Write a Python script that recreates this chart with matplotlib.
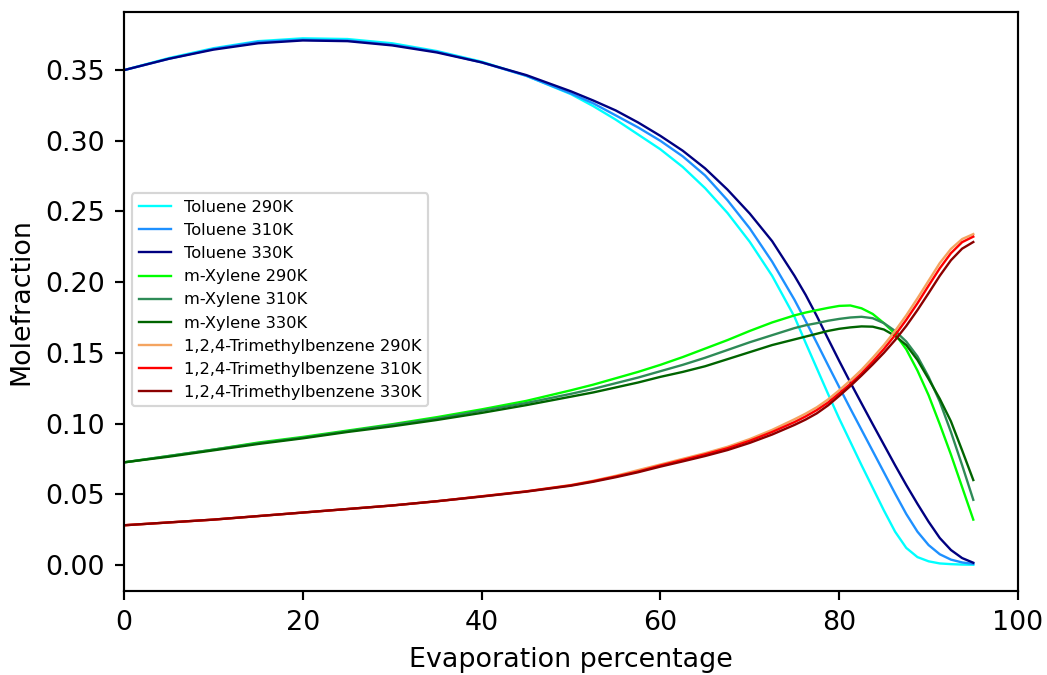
import matplotlib
matplotlib.use("Agg")
import matplotlib.pyplot as plt

# x positions (evaporation percentage)
x = [0, 5, 10, 15, 20, 25, 30, 35, 40, 45, 50, 52.5, 55, 57.5, 60, 62.5, 65,
     67.5, 70, 72.5, 75, 76.25, 77.5, 78.75, 80, 81.25, 82.5, 83.75, 85, 86.25,
     87.5, 88.75, 90, 91.25, 92.5, 93.75, 95]

toluene_290 = [0.350, 0.3585, 0.3655, 0.3705, 0.3725, 0.372, 0.369, 0.3635, 0.356,
               0.346, 0.333, 0.3245, 0.315, 0.3045, 0.294, 0.2815, 0.2665,
               0.249, 0.2285, 0.2045, 0.1755, 0.157, 0.139, 0.121, 0.1035,
               0.087, 0.0705, 0.0545, 0.0385, 0.0235, 0.012, 0.0055, 0.0025,
               0.001, 0.0005, 0.0002, 0.0001]
toluene_310 = [0.350, 0.358, 0.365, 0.370, 0.3715, 0.371, 0.368, 0.363, 0.3555,
               0.346, 0.3335, 0.3265, 0.318, 0.3095, 0.300, 0.289, 0.2755,
               0.258, 0.238, 0.2145, 0.1875, 0.1725, 0.157, 0.1413, 0.1258,
               0.1105, 0.0955, 0.0805, 0.0655, 0.0505, 0.036, 0.0235, 0.014,
               0.0075, 0.0037, 0.0017, 0.0007]
toluene_330 = [0.350, 0.358, 0.3645, 0.369, 0.371, 0.3705, 0.3675, 0.3625, 0.3555,
               0.3465, 0.335, 0.3285, 0.3215, 0.313, 0.3035, 0.293, 0.2805,
               0.2655, 0.2485, 0.229, 0.2045, 0.191, 0.176, 0.160, 0.1443,
               0.129, 0.1142, 0.0995, 0.085, 0.0705, 0.0565, 0.0432, 0.0305,
               0.019, 0.0105, 0.0048, 0.0015]

xylene_290 = [0.0725, 0.077, 0.0815, 0.0865, 0.0905, 0.095, 0.0995, 0.1045, 0.110,
              0.116, 0.1235, 0.1275, 0.132, 0.1365, 0.1415, 0.147, 0.153,
              0.159, 0.1655, 0.1715, 0.1765, 0.1785, 0.1802, 0.1818, 0.1832,
              0.1835, 0.1815, 0.1775, 0.171, 0.1635, 0.1525, 0.1375, 0.120,
              0.0995, 0.078, 0.055, 0.032]
xylene_310 = [0.0725, 0.077, 0.0815, 0.086, 0.090, 0.0945, 0.099, 0.1035, 0.109,
              0.1145, 0.121, 0.1245, 0.1285, 0.1325, 0.137, 0.1415, 0.1465,
              0.152, 0.1575, 0.1625, 0.1675, 0.1695, 0.171, 0.1727, 0.174,
              0.175, 0.1755, 0.1745, 0.171, 0.1655, 0.158, 0.1475, 0.133,
              0.1155, 0.094, 0.0705, 0.046]
xylene_330 = [0.0725, 0.0765, 0.081, 0.0855, 0.0895, 0.094, 0.098, 0.1025, 0.1075,
              0.113, 0.119, 0.122, 0.1255, 0.129, 0.133, 0.1365, 0.1405,
              0.1455, 0.1505, 0.1555, 0.1595, 0.1615, 0.1635, 0.1655, 0.167,
              0.168, 0.1687, 0.1685, 0.1665, 0.162, 0.1555, 0.145, 0.1315,
              0.1175, 0.1015, 0.081, 0.060]

tmb_290 = [0.028, 0.030, 0.032, 0.0345, 0.037, 0.0395, 0.042, 0.045, 0.0485,
           0.052, 0.0565, 0.0595, 0.063, 0.067, 0.071, 0.075, 0.079,
           0.0835, 0.089, 0.0955, 0.103, 0.107, 0.1115, 0.117, 0.1235,
           0.1305, 0.138, 0.1465, 0.1555, 0.1655, 0.1765, 0.1885, 0.201,
           0.2135, 0.2235, 0.2305, 0.234]
tmb_310 = [0.028, 0.030, 0.032, 0.0345, 0.037, 0.0395, 0.042, 0.045, 0.0485,
           0.052, 0.0563, 0.0592, 0.0625, 0.066, 0.0703, 0.0742, 0.0782,
           0.0825, 0.0878, 0.094, 0.101, 0.105, 0.1095, 0.1148, 0.1213,
           0.128, 0.1355, 0.1438, 0.1527, 0.1625, 0.1733, 0.185, 0.1975,
           0.2098, 0.2205, 0.2283, 0.2322]
tmb_330 = [0.028, 0.030, 0.032, 0.0345, 0.037, 0.0395, 0.042, 0.045, 0.0483,
           0.0518, 0.056, 0.0588, 0.062, 0.0655, 0.0695, 0.0732, 0.077,
           0.0812, 0.0863, 0.0922, 0.099, 0.1028, 0.1072, 0.1128, 0.1195,
           0.1265, 0.134, 0.1418, 0.150, 0.159, 0.169, 0.1802, 0.1922,
           0.2045, 0.2155, 0.2237, 0.2284]

series = [
    ("Toluene 290K", toluene_290, "cyan"),
    ("Toluene 310K", toluene_310, "dodgerblue"),
    ("Toluene 330K", toluene_330, "navy"),
    ("m-Xylene 290K", xylene_290, "lime"),
    ("m-Xylene 310K", xylene_310, "seagreen"),
    ("m-Xylene 330K", xylene_330, "darkgreen"),
    ("1,2,4-Trimethylbenzene 290K", tmb_290, "sandybrown"),
    ("1,2,4-Trimethylbenzene 310K", tmb_310, "red"),
    ("1,2,4-Trimethylbenzene 330K", tmb_330, "darkred"),
]

s = 1.94  # scale factor of the original rendering
fig = plt.figure(figsize=(10.47, 6.75), dpi=100)
ax = fig.add_axes([0.1184, 0.1244, 0.8539, 0.8578])
for label, y, color in series:
    ax.plot(x, y, color=color, lw=1.7, label=label, solid_joinstyle="round")

ax.set_xlim(0, 100)
ax.set_xlabel("Evaporation percentage", fontsize=10 * s, labelpad=4 * s)
ax.set_ylabel("Molefraction", fontsize=10 * s, labelpad=4 * s)
ax.tick_params(labelsize=10 * s, length=3.5 * s, width=0.8 * s, pad=3.5 * s)
for sp in ax.spines.values():
    sp.set_linewidth(0.8 * s)
ax.set_yticks([0.0, 0.05, 0.10, 0.15, 0.20, 0.25, 0.30, 0.35])
ax.yaxis.set_major_formatter(matplotlib.ticker.FormatStrFormatter("%.2f"))
leg = ax.legend(loc="upper left", bbox_to_anchor=(0.009, 0.687), borderaxespad=0,
                fontsize=6.05 * s, handlelength=2.0)
leg.get_frame().set_linewidth(0.8 * s)

fig.savefig("out.png", dpi=100)
